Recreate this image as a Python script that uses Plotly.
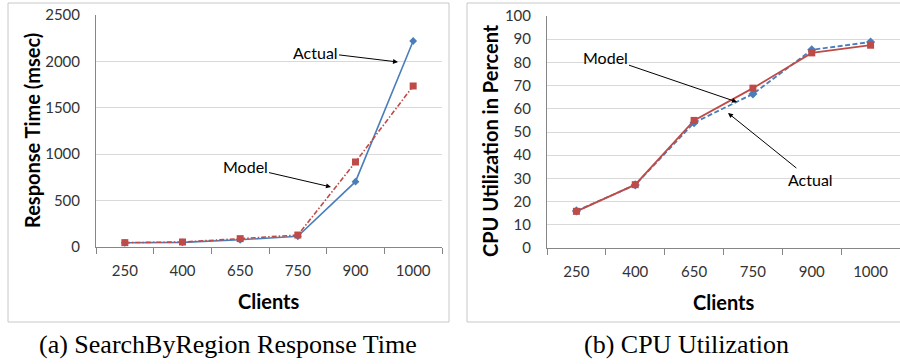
import plotly.graph_objects as go

clients = ["250", "400", "650", "750", "900", "1000"]

# (a) SearchByRegion response time (msec)
resp_actual = [45, 50, 78, 115, 704, 2220]
resp_model = [47, 54, 90, 129, 916, 1735]

# (b) CPU utilization (%)
cpu_actual = [16, 27.2, 54, 66.4, 85.4, 88.8]
cpu_model = [15.8, 27.3, 55.0, 68.9, 84.1, 87.4]

W, H = 900, 364
BLUE = "#4a7ebb"
RED = "#be4b48"
FONT = "Lato"
GRID = "#d9d9d9"
AXIS = "#868686"


def px(x):
    return x / W


def py(y):
    return 1 - y / H


fig = go.Figure()

fig.add_trace(go.Scatter(x=clients, y=resp_actual, mode="lines+markers", name="Actual",
                         line=dict(color=BLUE, width=1.6),
                         marker=dict(symbol="diamond", size=6, color=BLUE),
                         xaxis="x", yaxis="y"))
fig.add_trace(go.Scatter(x=clients, y=resp_model, mode="lines+markers", name="Model",
                         line=dict(color=RED, width=1.6, dash="5px,2px,1.5px,2px"),
                         marker=dict(symbol="square", size=7, color=RED),
                         xaxis="x", yaxis="y"))

fig.add_trace(go.Scatter(x=clients, y=cpu_actual, mode="lines+markers", name="Actual",
                         line=dict(color=BLUE, width=1.8, dash="5px,2.5px"),
                         marker=dict(symbol="diamond", size=7, color=BLUE),
                         xaxis="x2", yaxis="y2"))
fig.add_trace(go.Scatter(x=clients, y=cpu_model, mode="lines+markers", name="Model",
                         line=dict(color=RED, width=1.8),
                         marker=dict(symbol="square", size=7, color=RED),
                         xaxis="x2", yaxis="y2"))

xcommon = dict(type="category", range=[-0.5, 5.5], showline=True, linecolor=AXIS,
               linewidth=1, ticks="outside", tickson="boundaries", ticklen=6,
               tickcolor=AXIS, showgrid=False, ticklabelstandoff=10, automargin=False,
               tickfont=dict(family=FONT, size=15, color="#333"), fixedrange=True)
ycommon = dict(showline=True, linecolor=AXIS, linewidth=1, showgrid=True,
               gridcolor=GRID, gridwidth=1, zeroline=False, ticks="", automargin=False,
               ticklabelstandoff=12, tickfont=dict(family=FONT, size=15, color="#333"),
               fixedrange=True)

fig.update_layout(
    width=W, height=H, autosize=False,
    margin=dict(l=0, r=0, t=0, b=0, pad=0, autoexpand=False),
    paper_bgcolor="white", plot_bgcolor="white",
    showlegend=False,
    xaxis=dict(domain=[px(96), px(442)], anchor="y", **xcommon),
    yaxis=dict(domain=[py(247), py(15)], anchor="x", range=[0, 2500],
               tickvals=[0, 500, 1000, 1500, 2000, 2500], **ycommon),
    xaxis2=dict(domain=[px(547), 1.0], anchor="y2", **xcommon),
    yaxis2=dict(domain=[py(248), py(16)], anchor="x2", range=[0, 100],
                tickvals=list(range(0, 101, 10)), **ycommon),
)

# chart frames
fig.add_shape(type="rect", xref="paper", yref="paper", x0=px(8), x1=px(449),
              y0=py(322), y1=py(3), line=dict(color="#c8c8c8", width=1), layer="below")
fig.add_shape(type="rect", xref="paper", yref="paper", x0=px(467), x1=px(910),
              y0=py(322), y1=py(3), line=dict(color="#c8c8c8", width=1), layer="below")

C = dict(xanchor="center", yanchor="middle", xref="paper", yref="paper")

title_font = dict(family=FONT, size=20, color="black")
# axis titles
fig.add_annotation(x=px(32), y=py(131), text="<b>Response Time (msec)</b>",
                   textangle=-90, showarrow=False, font=title_font, **C)
fig.add_annotation(x=px(269), y=py(301), text="<b>Clients</b>",
                   showarrow=False, font=title_font, **C)
fig.add_annotation(x=px(490), y=py(140), text="<b>CPU Utilization in Percent</b>",
                   textangle=-90, showarrow=False, font=title_font, **C)
fig.add_annotation(x=px(724), y=py(302), text="<b>Clients</b>",
                   showarrow=False, font=title_font, **C)

# callouts
lab_font = dict(family=FONT, size=16, color="black")
arrow = dict(showarrow=True, arrowhead=2, arrowsize=1, arrowwidth=1, arrowcolor="black")
fig.add_annotation(x=px(398), y=py(62), ax=-83, ay=-10,
                   text="Actual", font=lab_font, **arrow, **C)
fig.add_annotation(x=px(331), y=py(187), ax=-86, ay=-20,
                   text="Model", font=lab_font, **arrow, **C)
fig.add_annotation(x=px(737), y=py(102), ax=-132, ay=-45,
                   text="Model", font=lab_font, **arrow, **C)
fig.add_annotation(x=px(728), y=py(113), ax=82, ay=66,
                   text="Actual", font=lab_font, **arrow, **C)

# captions
cap_font = dict(family="Liberation Serif", size=26, color="black")
fig.add_annotation(x=px(228), y=py(344), text="(a) SearchByRegion Response Time",
                   showarrow=False, font=cap_font, **C)
fig.add_annotation(x=px(686), y=py(344), text="(b) CPU Utilization",
                   showarrow=False, font=cap_font, **C)

fig.write_html("out.html", config={"displayModeBar": False, "responsive": False},
               post_script="document.body.style.margin='0';document.body.style.overflow='hidden';")
